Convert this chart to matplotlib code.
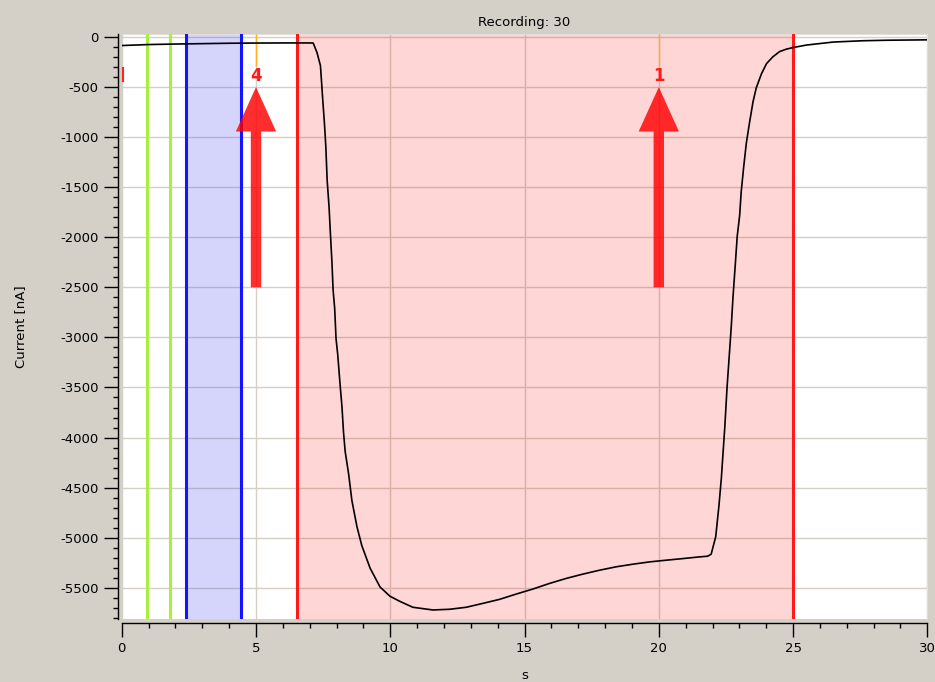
import matplotlib
matplotlib.use('Agg')
import matplotlib.pyplot as plt
from matplotlib.ticker import MultipleLocator

# ---- data ----
time_s = [0, 0.5, 1, 2, 3, 4, 5, 6, 7.0, 7.13, 7.27, 7.40, 7.48, 7.55, 7.60,
          7.65, 7.72, 7.77, 7.83, 7.87, 7.93, 7.98, 8.04, 8.09, 8.14, 8.20,
          8.26, 8.32, 8.45, 8.57, 8.76, 8.94, 9.25, 9.62, 9.99, 10.35, 10.84,
          11.59, 12.21, 12.83, 13.45, 14.07, 14.69, 15.31, 15.93, 16.55, 17.17,
          17.79, 18.41, 19.03, 19.65, 20.27, 20.89, 21.51, 21.82, 21.95, 22.02,
          22.12, 22.24, 22.33, 22.39, 22.46, 22.54, 22.62, 22.70, 22.76, 22.85,
          22.92, 23.01, 23.07, 23.16, 23.26, 23.38, 23.51, 23.63, 23.82, 24.01,
          24.25, 24.50, 24.75, 25.0, 25.5, 26.5, 27.6, 28.5, 30]
current_nA = [-85, -80, -75, -70, -66, -62, -60, -59, -59, -60, -154, -286, -605,
              -868, -1094, -1432, -1695, -1959, -2259, -2523, -2711, -3011, -3162,
              -3331, -3500, -3688, -3951, -4139, -4365, -4628, -4891, -5079, -5305,
              -5493, -5585, -5635, -5695, -5722, -5715, -5695, -5656, -5616, -5563,
              -5513, -5457, -5407, -5364, -5325, -5291, -5265, -5242, -5225, -5209,
              -5192, -5185, -5165, -5093, -4990, -4679, -4403, -4162, -3886, -3507,
              -3197, -2886, -2610, -2266, -1990, -1783, -1541, -1300, -1059, -852,
              -645, -507, -369, -266, -197, -145, -121, -105, -80, -50, -37, -32, -28]

green_markers = [0.95, 1.78]
blue_window = [2.41, 4.45]
red_window = [6.53, 25.0]
event_times = [5.0, 20.0]
event_labels = ['4', '1']
event_line_bottom = -290
label_y = -390
arrow_tip = -500
arrow_tail = -2500
left_mark_t = 0.04
left_mark_range = [-310, -440]

x_limits = [0, 30]
y_limits = [-5812, 30]
x_ticks = list(range(0, 31, 5))
y_ticks = list(range(0, -5501, -500))

# ---- figure ----
plt.rcParams['font.family'] = ['DejaVu Sans']
plt.rcParams['axes.unicode_minus'] = False

fig = plt.figure(figsize=(9.35, 6.82), dpi=100, facecolor='#D4D0C8')
ax = fig.add_axes([0.1302, 0.0924, 0.8616, 0.8577])
ax.set_facecolor('white')
ax.set_xlim(*x_limits)
ax.set_ylim(*y_limits)

ax.set_axisbelow(True)
ax.grid(True, which='major', color='#D4D0C8', lw=1.0)

ax.axvspan(*blue_window, facecolor=(0.1, 0.1, 0.95), alpha=0.18, lw=0, zorder=1)
ax.axvspan(*red_window, facecolor=(1.0, 0.0, 0.0), alpha=0.16, lw=0, zorder=1)

for t in green_markers:
    ax.axvline(t, color='#A8F040', lw=2.2, zorder=3)
for t in blue_window:
    ax.axvline(t, color='#1414FF', lw=2.2, zorder=3)
for t in red_window:
    ax.axvline(t, color='#FF1A1A', lw=2.2, zorder=3)

ax.vlines(event_times, event_line_bottom, y_limits[1], color='#FFB020', lw=1.0, zorder=3)

ax.plot(time_s, current_nA, color='black', lw=1.2, zorder=4)

for t, lab in zip(event_times, event_labels):
    ax.annotate('', xy=(t, arrow_tip), xytext=(t, arrow_tail),
                arrowprops=dict(arrowstyle='simple,head_length=32,head_width=29,tail_width=7.5',
                                mutation_scale=1, facecolor='#FF0000', edgecolor='none',
                                alpha=0.82, lw=0, shrinkA=0, shrinkB=0), zorder=5)
    ax.text(t, label_y, lab, color='#FF1A1A', fontsize=12, fontweight='bold',
            ha='center', va='center', zorder=6)

ax.plot([left_mark_t, left_mark_t], left_mark_range, color='#FF2020', lw=1.5,
        clip_on=False, zorder=6)

# axes styling
for side in ['top', 'right']:
    ax.spines[side].set_color('#E2DFDA')
for side in ['left', 'bottom']:
    ax.spines[side].set_position(('outward', 3))
    ax.spines[side].set_color('black')
    ax.spines[side].set_linewidth(1.0)

ax.set_xticks(x_ticks)
ax.set_yticks(y_ticks)
ax.xaxis.set_minor_locator(MultipleLocator(1))
ax.yaxis.set_minor_locator(MultipleLocator(100))
ax.tick_params(which='major', length=10, width=1, direction='out', labelsize=9.5,
               pad=3.5, colors='black')
ax.tick_params(which='minor', length=3.6, width=1, direction='out')

ax.set_title('Recording: 30', fontsize=9.5, pad=6)
ax.set_ylabel('Current [nA]', fontsize=9.5)
ax.yaxis.set_label_coords(-0.117, 0.5)
ax.set_xlabel('s', fontsize=9.5)
ax.xaxis.set_label_coords(0.5, -0.0855)

fig.savefig('out.png', dpi=100, facecolor=fig.get_facecolor())
